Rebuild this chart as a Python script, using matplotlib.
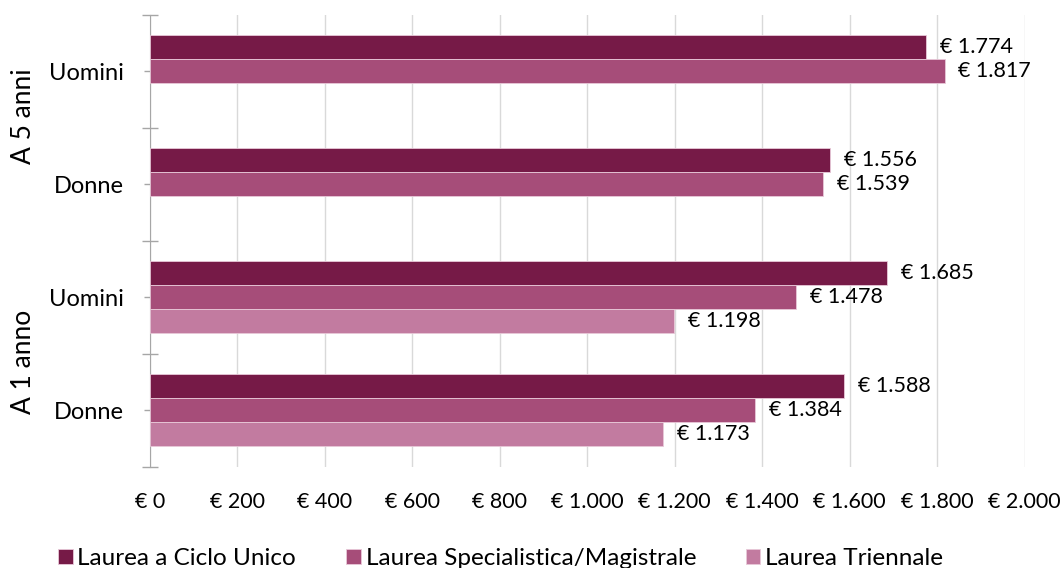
import matplotlib
matplotlib.use("Agg")
import matplotlib.pyplot as plt
import numpy as np

plt.rcParams['font.family'] = ['Lato', 'DejaVu Sans']

categories = ["Donne", "Uomini", "Donne", "Uomini"]
groups = ["A 1 anno", "A 5 anni"]
series = ["Laurea a Ciclo Unico", "Laurea Specialistica/Magistrale", "Laurea Triennale"]
ciclo_unico = [1588, 1685, 1556, 1774]
magistrale = [1384, 1478, 1539, 1817]
triennale = [1173, 1198, None, None]
colors = ["#761A47", "#A64D79", "#C27BA0"]
xticks = [0, 200, 400, 600, 800, 1000, 1200, 1400, 1600, 1800, 2000]


def euro(v):
    return "€ " + f"{v:,}".replace(",", ".")


fig = plt.figure(figsize=(10.64, 5.68), dpi=100)
ax = fig.add_axes([0.141, 0.178, 0.822, 0.796])

y = np.arange(len(categories))
h = 0.212
offsets = [h, 0, -h]
for vals, off, col, name in zip([ciclo_unico, magistrale, triennale], offsets, colors, series):
    idx = [i for i, v in enumerate(vals) if v is not None]
    vv = [vals[i] for i in idx]
    bars = ax.barh(y[idx] + off, vv, height=h, color=col, edgecolor="#E8C8D8",
                   linewidth=0.6, label=name, zorder=3)
    for b, v in zip(bars, vv):
        ax.annotate(euro(v), (b.get_width(), b.get_y() + h / 2), xytext=(10, 0),
                    textcoords="offset points", va="center", ha="left", fontsize=15.5)

ax.set_xlim(0, 2000)
ax.set_ylim(-0.5, 3.5)
ax.set_xticks(xticks)
ax.set_xticklabels([euro(v) for v in xticks], fontsize=15.5)
ax.tick_params(axis="x", length=0, pad=18)
ax.grid(axis="x", color="#D9D9D9", linewidth=1, zorder=0)

ax.set_yticks(np.arange(-0.5, 4, 1))
ax.set_yticklabels([])
ax.set_yticks(y, minor=True)
ax.set_yticklabels(categories, minor=True, fontsize=17)
ax.tick_params(axis="y", which="major", direction="inout", length=11, color="#A6A6A6", width=1)
ax.tick_params(axis="y", which="minor", direction="inout", length=8, color="#A6A6A6", width=1, pad=15)

for s in ["top", "right", "bottom"]:
    ax.spines[s].set_visible(False)
ax.spines["left"].set_color("#A6A6A6")

ax.text(-0.145, 0.43, groups[0], rotation=90, transform=ax.get_yaxis_transform(),
        ha="center", va="center", fontsize=19)
ax.text(-0.145, 2.6, groups[1], rotation=90, transform=ax.get_yaxis_transform(),
        ha="center", va="center", fontsize=19)

fig.legend(loc="lower left", bbox_to_anchor=(0.034, -0.04), ncol=3, frameon=False,
           fontsize=17.5, handlelength=0.6, handleheight=0.6, handletextpad=0.2,
           columnspacing=2.05)

fig.savefig("out.png", dpi=100)
